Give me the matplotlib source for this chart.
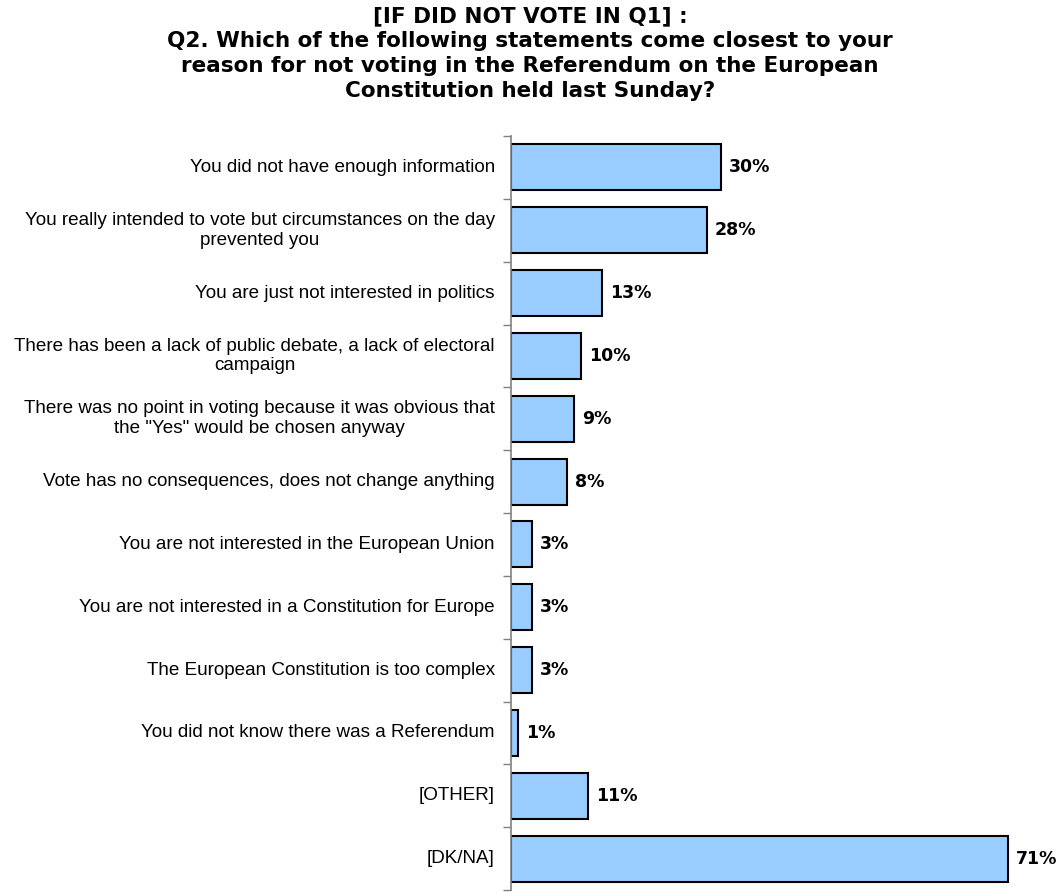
import matplotlib.pyplot as plt

plt.rcParams["font.family"] = ["Liberation Sans", "DejaVu Sans"]

labels = [
    "You did not have enough information",
    "You really intended to vote but circumstances on the day\nprevented you",
    "You are just not interested in politics",
    "There has been a lack of public debate, a lack of electoral\ncampaign",
    "There was no point in voting because it was obvious that\nthe \"Yes\" would be chosen anyway",
    "Vote has no consequences, does not change anything",
    "You are not interested in the European Union",
    "You are not interested in a Constitution for Europe",
    "The European Constitution is too complex",
    "You did not know there was a Referendum",
    "[OTHER]",
    "[DK/NA]",
]
values = [30, 28, 13, 10, 9, 8, 3, 3, 3, 1, 11, 71]

title = ("[IF DID NOT VOTE IN Q1] :\n"
         "Q2. Which of the following statements come closest to your\n"
         "reason for not voting in the Referendum on the European\n"
         "Constitution held last Sunday?")

fig = plt.figure(figsize=(10.6, 8.92), dpi=100)
ax = fig.add_axes([511 / 1060, 2 / 892, 535.5 / 1060, 754 / 892])

n = len(values)
pos = list(range(n))
ax.barh(pos, values, height=0.73, color="#99CCFF", edgecolor="black",
        linewidth=1.5)

ax.set_xlim(0, 76.5)
ax.set_ylim(n - 0.5, -0.5)

# ticks sit between categories, labels drawn as text
ax.set_yticks([i - 0.5 for i in range(n + 1)])
ax.set_yticklabels([])
ax.tick_params(axis="y", direction="out", length=6, width=1, color="#808080")
ax.set_xticks([])
for s in ["top", "right", "bottom"]:
    ax.spines[s].set_visible(False)
ax.spines["left"].set_color("#808080")
ax.spines["left"].set_linewidth(1.2)

for i, (lab, v) in enumerate(zip(labels, values)):
    ax.text(-2.3, i, lab, ha="right", va="center", fontsize=13.6,
            multialignment="center", color="black", linespacing=1.2)
    ax.text(v + 1.1, i, f"{v}%", ha="left", va="center", fontsize=12.5,
            fontweight="bold", color="black", family="DejaVu Sans")

fig.text(0.5, 0.993, title, ha="center", va="top", fontsize=15.5,
         fontweight="bold", linespacing=1.3, family="DejaVu Sans")

fig.savefig("out.png", dpi=100)
